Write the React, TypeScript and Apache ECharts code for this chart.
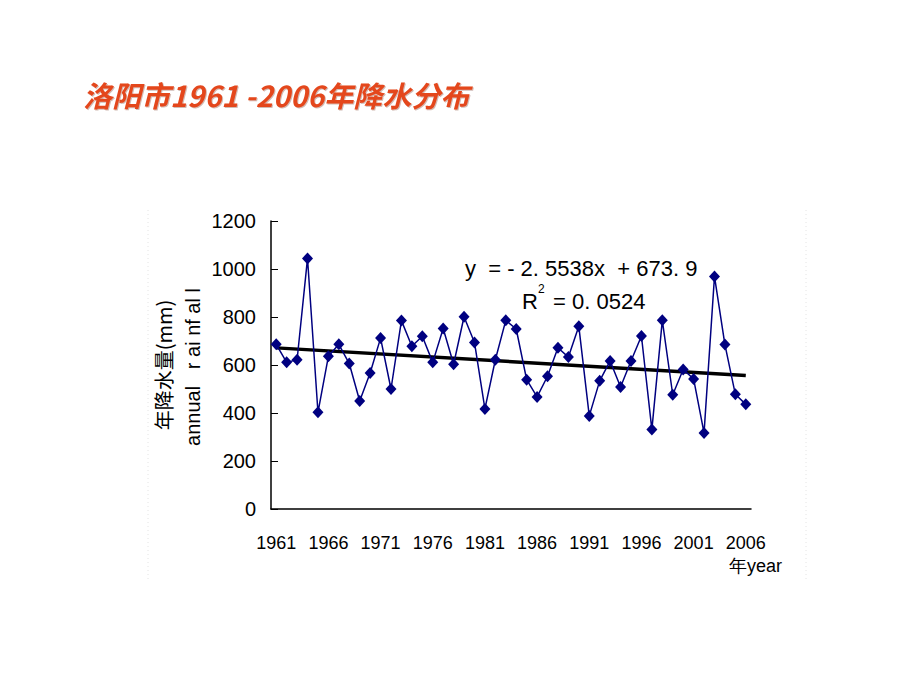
import React, { useEffect, useRef } from "react";
import * as echarts from "echarts";

const years: string[] = [
  "1961","1962","1963","1964","1965","1966","1967","1968","1969","1970",
  "1971","1972","1973","1974","1975","1976","1977","1978","1979","1980",
  "1981","1982","1983","1984","1985","1986","1987","1988","1989","1990",
  "1991","1992","1993","1994","1995","1996","1997","1998","1999","2000",
  "2001","2002","2003","2004","2005","2006",
];

const rainfall: number[] = [
  686, 611, 622, 1044, 403, 636, 686, 606, 450, 567,
  712, 500, 785, 678, 720, 611, 752, 603, 801, 694,
  417, 622, 786, 750, 539, 467, 553, 672, 633, 761,
  388, 534, 617, 508, 617, 721, 331, 786, 476, 581,
  542, 317, 969, 685, 478, 436,
];

const trendSlope = -2.5538;
const trendIntercept = 673.9;
const equationText = "y  = - 2. 5538x  + 673. 9";
const r2Text = "= 0. 0524";

const yTicks = { min: 0, max: 1200, interval: 200 };

export default function App() {
  const ref = useRef<HTMLDivElement>(null);

  useEffect(() => {
    if (!ref.current) return;
    const chart = echarts.init(ref.current, null, { renderer: "svg" });
    const n = years.length;
    const trendData = [
      [years[0], trendSlope * 1 + trendIntercept],
      [years[n - 1], trendSlope * n + trendIntercept],
    ];
    const font = "'Liberation Sans', Arial, sans-serif";
    chart.setOption({
      animation: false,
      backgroundColor: "#ffffff",
      title: {
        text: "洛阳市1961 -2006年降水分布",
        left: 78,
        top: 74,
        textStyle: {
          fontFamily: "'Noto Sans CJK SC', sans-serif",
          fontSize: 29,
          fontWeight: "bold",
          fontStyle: "italic",
          color: "#E4471C",
          textShadowColor: "rgba(120,60,40,0.35)",
          textShadowOffsetX: 1,
          textShadowOffsetY: 1,
          textShadowBlur: 1,
        },
      },
      grid: { left: 271, right: 169, top: 221, bottom: 181 },
      xAxis: {
        type: "category",
        data: years,
        boundaryGap: true,
        axisLine: { lineStyle: { color: "#000", width: 1.5 } },
        axisTick: { inside: true, length: 5, interval: 0, lineStyle: { color: "#000" } },
        axisLabel: {
          interval: 4,
          margin: 25,
          fontSize: 18,
          color: "#000",
          fontFamily: font,
        },
        splitLine: { show: false },
      },
      yAxis: {
        type: "value",
        min: yTicks.min,
        max: yTicks.max,
        interval: yTicks.interval,
        axisLine: { show: true, lineStyle: { color: "#000", width: 1.5 } },
        axisTick: { show: true, inside: true, length: 7, lineStyle: { color: "#000" } },
        axisLabel: {
          margin: 15,
          fontSize: 20,
          color: "#000",
          fontFamily: font,
          formatter: (v: number) => String(v),
        },
        splitLine: { show: false },
      },
      series: [
        {
          type: "line",
          data: rainfall,
          symbol: "diamond",
          symbolSize: [11, 12],
          showSymbol: true,
          showAllSymbol: true,
          itemStyle: { color: "#000080" },
          lineStyle: { color: "#000080", width: 1.5 },
          z: 3,
        },
        {
          type: "line",
          data: trendData,
          symbol: "none",
          lineStyle: { color: "#000", width: 3.5 },
          z: 2,
        },
      ],
      graphic: [
        {
          type: "line",
          shape: { x1: 148, y1: 210, x2: 148, y2: 580 },
          style: { stroke: "#e4e4e4", lineWidth: 1, lineDash: [1, 3] },
        },
        {
          type: "line",
          shape: { x1: 806, y1: 210, x2: 806, y2: 580 },
          style: { stroke: "#e4e4e4", lineWidth: 1, lineDash: [1, 3] },
        },
        {
          type: "text",
          x: 465,
          y: 268,
          style: {
            text: equationText,
            font: `22px ${font}`,
            fill: "#000",
            textAlign: "left",
            textVerticalAlign: "middle",
          },
        },
        {
          type: "text",
          x: 522,
          y: 301,
          style: {
            text: "R",
            font: `22px ${font}`,
            fill: "#000",
            textAlign: "left",
            textVerticalAlign: "middle",
          },
        },
        {
          type: "text",
          x: 538,
          y: 289,
          style: {
            text: "2",
            font: `12px ${font}`,
            fill: "#000",
            textAlign: "left",
            textVerticalAlign: "middle",
          },
        },
        {
          type: "text",
          x: 553,
          y: 301,
          style: {
            text: r2Text,
            font: `22px ${font}`,
            fill: "#000",
            textAlign: "left",
            textVerticalAlign: "middle",
          },
        },
        {
          type: "text",
          x: 163,
          y: 365,
          rotation: Math.PI / 2,
          style: {
            text: "年降水量(mm)",
            font: `20px 'Noto Sans CJK SC', sans-serif`,
            fill: "#000",
            textAlign: "center",
            textVerticalAlign: "middle",
          },
        },
        {
          type: "text",
          x: 193,
          y: 367,
          rotation: Math.PI / 2,
          style: {
            text: "annual   r ai nf al l",
            font: `20px ${font}`,
            fill: "#000",
            textAlign: "center",
            textVerticalAlign: "middle",
          },
        },
        {
          type: "text",
          x: 729,
          y: 566,
          style: {
            text: "年year",
            font: `18px ${font}`,
            fill: "#000",
            textAlign: "left",
            textVerticalAlign: "middle",
          },
        },
      ],
    });
    return () => chart.dispose();
  }, []);

  return (
    <div
      ref={ref}
      style={{ position: "fixed", left: 0, top: 0, width: 920, height: 690 }}
    />
  );
}
